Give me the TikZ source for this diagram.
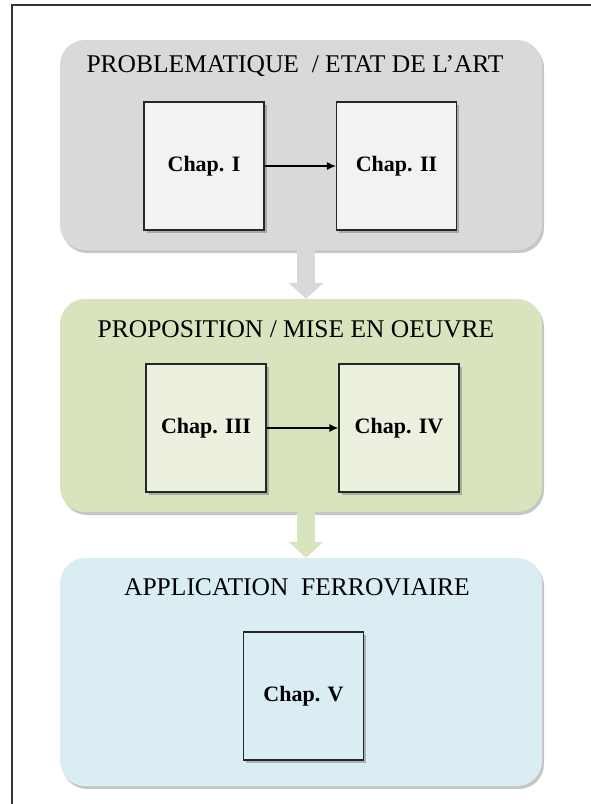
\documentclass[tikz,border=0pt]{standalone}
\usepackage{fontspec}
\setmainfont{Liberation Serif}
\usetikzlibrary{arrows.meta,shadows}
\definecolor{grisfond}{HTML}{D9D9D9}
\definecolor{grischap}{HTML}{F2F2F2}
\definecolor{vertfond}{HTML}{D7E4BD}
\definecolor{vertchap}{HTML}{EBF1DE}
\definecolor{bleufond}{HTML}{DAEDF3}
\begin{document}
\begin{tikzpicture}[x=1pt,y=-1pt,
	panneau/.style={rounded corners=25pt,minimum width=482pt,inner sep=0pt,
		drop shadow={shadow xshift=2pt,shadow yshift=-3pt,opacity=0.45}},
	chapitre/.style={draw=black!85,line width=1.2pt,minimum width=120pt,minimum height=128pt,inner sep=0pt,
		font=\fontsize{22}{26}\selectfont\bfseries,
		drop shadow={shadow xshift=2.5pt,shadow yshift=-2.5pt,opacity=0.55}},
	titre/.style={font=\fontsize{25.5}{30}\selectfont},
	fleche/.style={line width=18pt,-{Triangle[width=34pt,length=16pt]}}]
				\useasboundingbox (0,0) rectangle (591,804);
				\draw[line width=1.5pt,black!80] (12,804) -- (12,5) -- (591,5);
				% les trois parties
				\node[panneau,fill=grisfond,minimum height=210pt] (gris) at (301,145) {};
				\node[panneau,fill=vertfond,minimum height=213pt] (vert) at (301,405.5) {};
				\node[panneau,fill=bleufond,minimum height=228pt] (bleu) at (301,672) {};
				\node[titre] (tgris) at (295,66) {PROBLEMATIQUE~~/ ETAT DE L'ART};
				\node[titre] (tvert) at (296,329) {PROPOSITION / MISE EN OEUVRE};
				\node[titre] (tbleu) at (297,587) {APPLICATION~~FERROVIAIRE};
				% chapitres
				\node[chapitre,fill=grischap] (c1) at (204,166) {Chap. I};
				\node[chapitre,fill=grischap] (c2) at (396.5,166) {Chap. II};
				\node[chapitre,fill=vertchap] (c3) at (206,428) {Chap. III};
				\node[chapitre,fill=vertchap] (c4) at (399,428) {Chap. IV};
				\node[chapitre,fill=bleufond] (c5) at (303.5,696) {Chap. V};
				\foreach \a/\b in {c1/c2,c3/c4} {\draw[line width=1.2pt,-{Latex[length=9pt,width=8pt]}] (\a) -- (\b);}
				\draw[fleche,grisfond] (gris.south -| 306,0) -- (vert.north -| 306,0);
				\draw[fleche,vertfond] (vert.south -| 306,0) -- (bleu.north -| 306,0);
				\end{tikzpicture}
\end{document}
